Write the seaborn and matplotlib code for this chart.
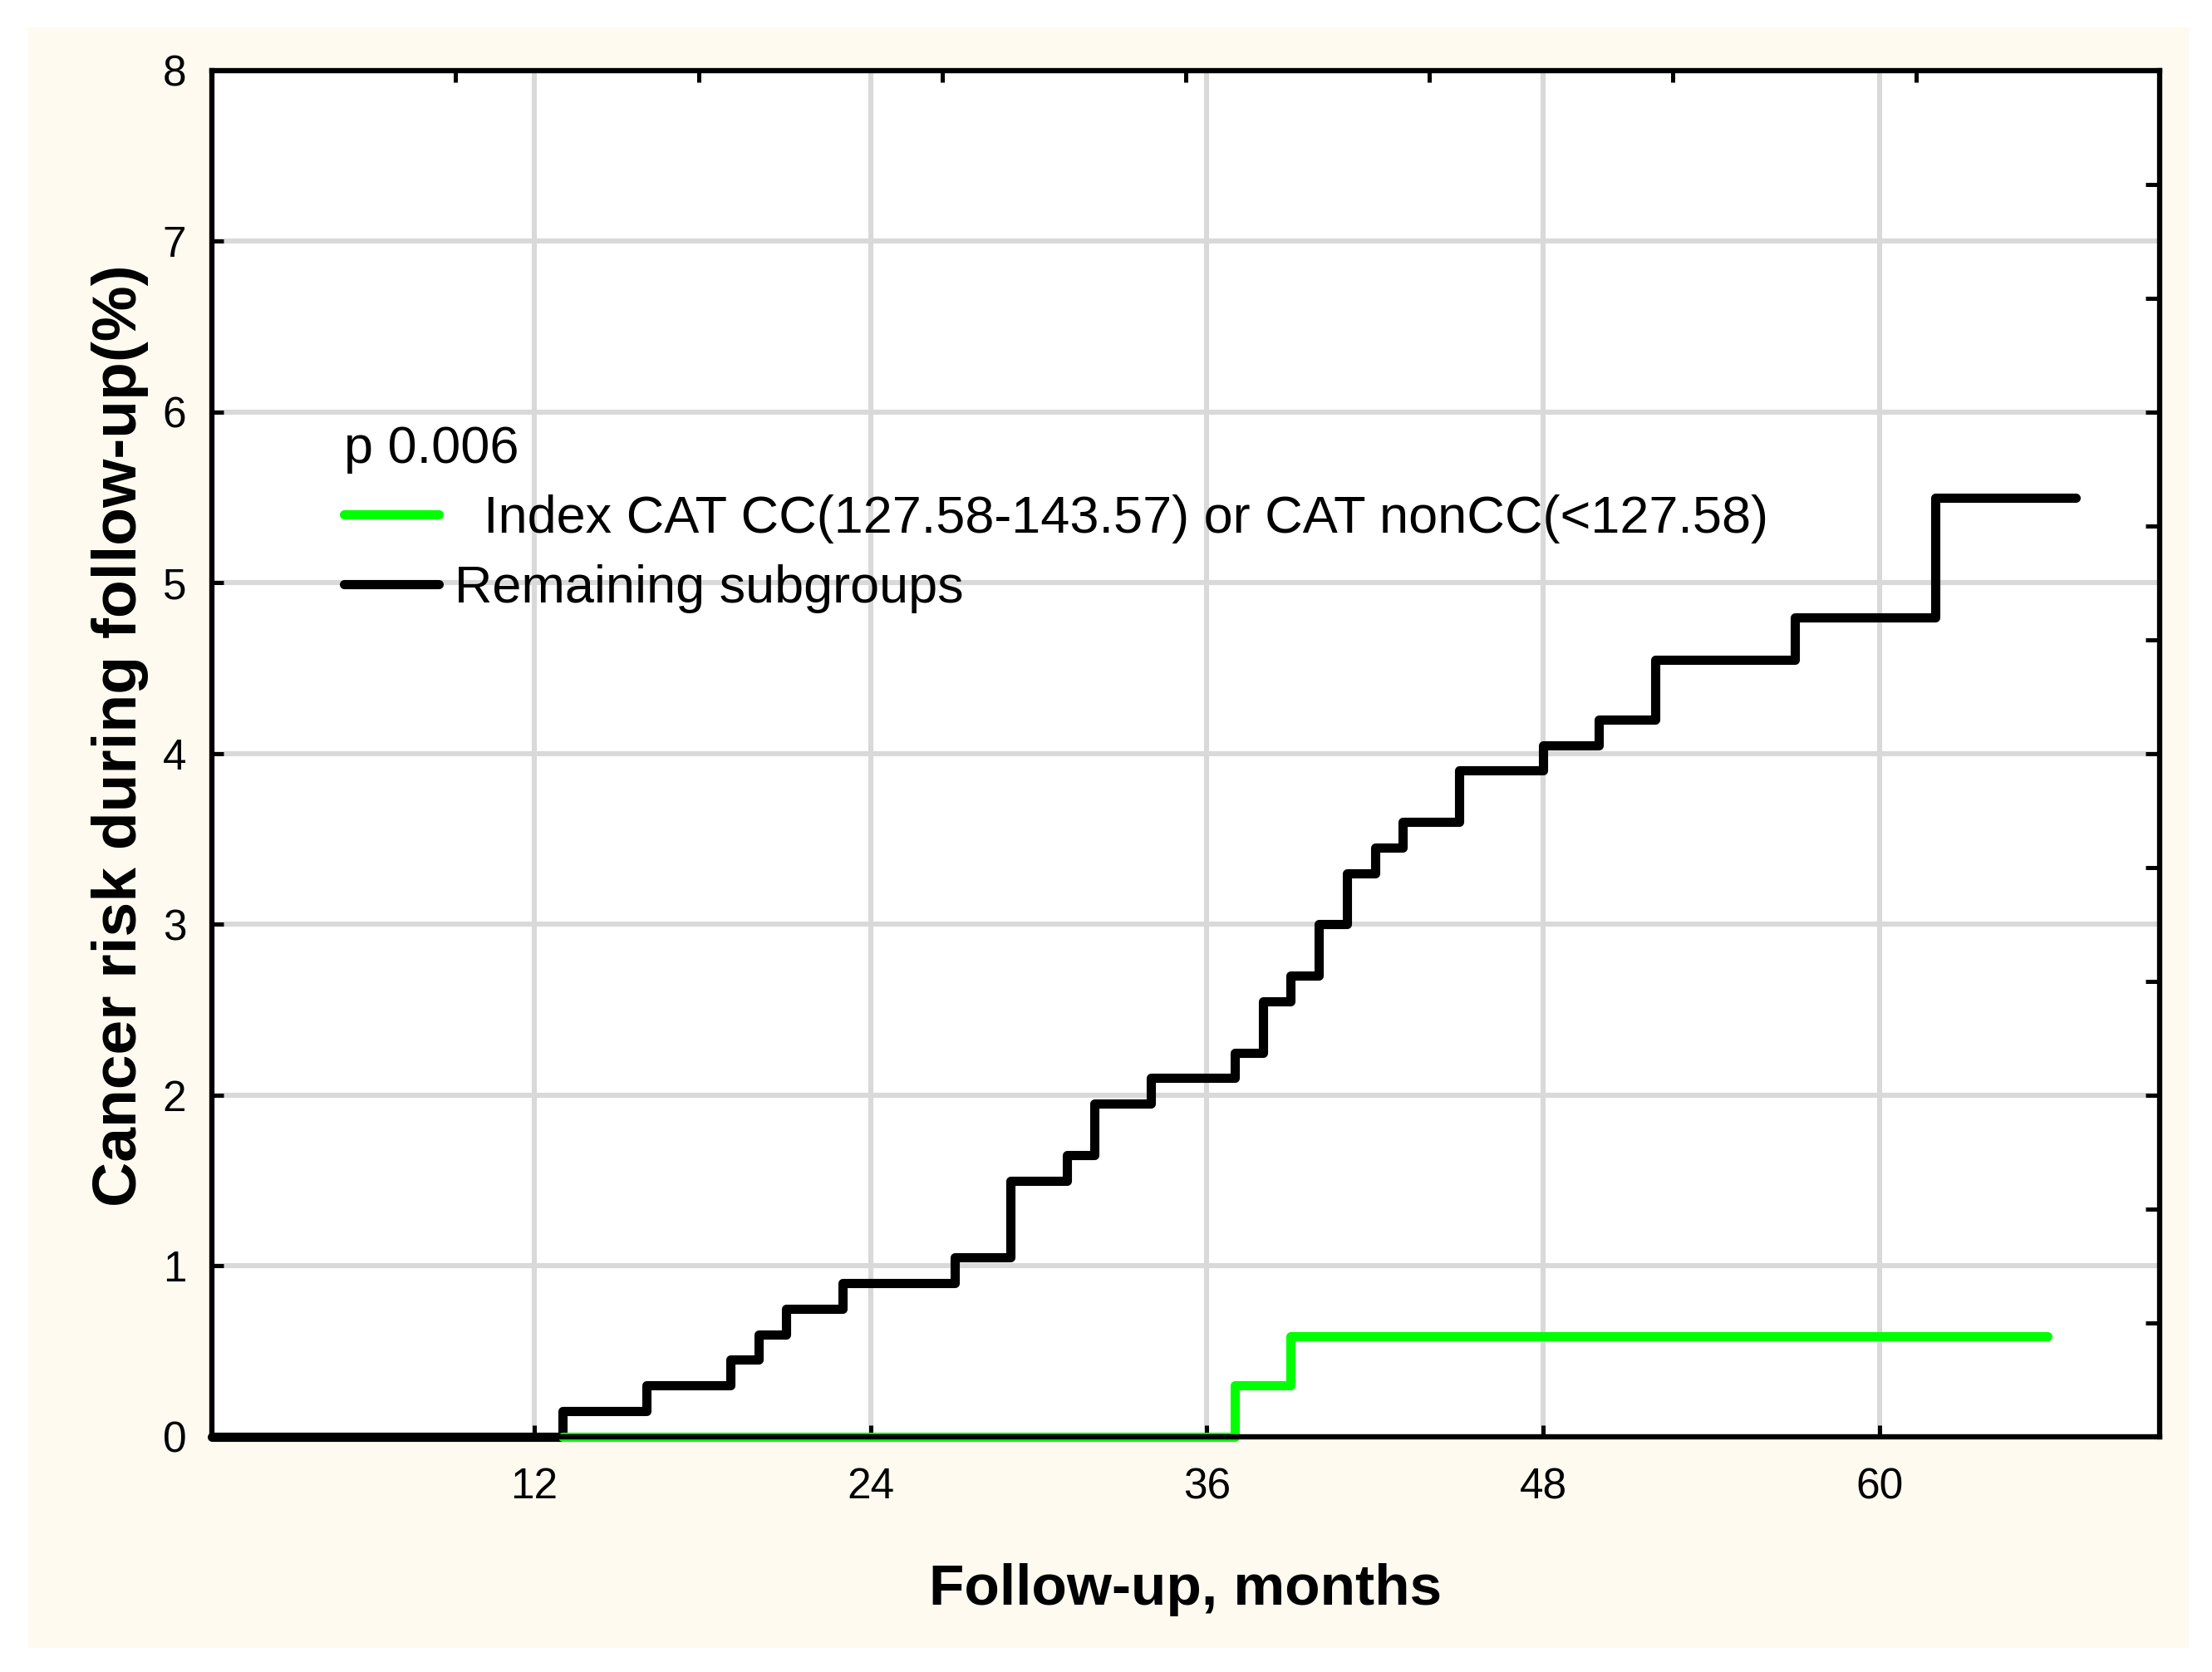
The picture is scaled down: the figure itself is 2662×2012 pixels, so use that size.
import pandas as pd
import numpy as np
from matplotlib import pyplot as plt
from matplotlib.patches import Rectangle
from matplotlib.lines import Line2D
import seaborn as sns

# step data (months, cumulative cancer risk %)
black_months = [0.5, 13, 16, 19, 20, 21, 23, 27, 29, 31, 32, 34, 37, 38, 39, 40, 41, 42, 43, 45, 48, 50, 52, 57, 62, 67]
black_risk = [0, 0.15, 0.3, 0.45, 0.6, 0.75, 0.9, 1.05, 1.5, 1.65, 1.95, 2.1, 2.25, 2.55, 2.7, 3.0, 3.3, 3.45, 3.6, 3.9, 4.05, 4.2, 4.55, 4.8, 5.5, 5.5]
green_months = [13, 37, 39, 66]
green_risk = [0, 0.3, 0.59, 0.59]

green_label = "  Index CAT CC(127.58-143.57) or CAT nonCC(<127.58)"
black_label = "Remaining subgroups"
p_label = "p 0.006"
x_ticks = [12, 24, 36, 48, 60]
y_ticks = [0, 1, 2, 3, 4, 5, 6, 7, 8]

df = pd.DataFrame({
    "month": black_months + green_months,
    "risk": black_risk + green_risk,
    "group": [black_label] * len(black_months) + [green_label] * len(green_months),
})

sns.set_style("white")
plt.rcParams['font.family'] = ['Liberation Sans', 'DejaVu Sans']
plt.rcParams.update({'text.color': 'black', 'axes.labelcolor': 'black',
                     'xtick.color': 'black', 'ytick.color': 'black'})

fig = plt.figure(figsize=(13.31, 10.06), dpi=200)
fig.patches.append(Rectangle((0.0124, 0.0144), 0.977, 0.9692, transform=fig.transFigure,
                             facecolor='#fefaf0', edgecolor='none', zorder=-1))
ax = fig.add_axes([0.0958, 0.1407, 0.8805, 0.8171])
ax.set_facecolor('white')

palette = {black_label: 'black', green_label: '#00ff00'}
sns.lineplot(data=df, x='month', y='risk', hue='group', palette=palette, estimator=None,
             drawstyle='steps-post', linewidth=4.0, legend=False, ax=ax, clip_on=False,
             solid_capstyle='round')

ax.set_xlim(0.5, 70)
ax.set_ylim(0, 8)
ax.set_xticks(x_ticks)
ax.set_yticks(y_ticks)
ax.grid(True, color='#d9d9d9', linewidth=2.2)
ax.set_axisbelow(True)
for s in ax.spines.values():
    s.set_linewidth(2.2)
    s.set_color('black')
ax.tick_params(axis='both', direction='in', length=5, width=1.8, color='black',
               labelcolor='black', labelsize=18.5)
ax.tick_params(axis='y', pad=11)
ax.tick_params(axis='x', pad=13)

ax.set_xlabel("Follow-up, months", fontsize=25, fontweight='bold', labelpad=24)
ax.set_ylabel("Cancer risk during follow-up(%)", fontsize=27, fontweight='bold', labelpad=6, y=0.513)

# secondary unlabelled ticks on top and right
ax_top = ax.twiny()
ax_top.set_xlim(0, 8)
ax_top.set_xticks(range(9))
ax_top.tick_params(axis='x', direction='in', length=5, width=1.8, labeltop=False, labelbottom=False)
ax_right = ax.twinx()
ax_right.set_ylim(0, 12)
ax_right.set_yticks(range(13))
ax_right.tick_params(axis='y', direction='in', length=6, width=1.8, labelright=False, labelleft=False)
for a in (ax_top, ax_right):
    a.grid(False)
    for s in a.spines.values():
        s.set_linewidth(2.2)
        s.set_color('black')

handles = [Line2D([], [], color='#00ff00', lw=4.0, solid_capstyle='round'),
           Line2D([], [], color='black', lw=4.0, solid_capstyle='round')]
leg = ax.legend(handles, [green_label, black_label], title=p_label, loc='upper left',
                bbox_to_anchor=(0.068, 0.741), frameon=False, fontsize=22.7, title_fontsize=22.7,
                handlelength=1.8, handletextpad=0.3, labelspacing=0.4, borderpad=0,
                borderaxespad=0, alignment='left')
leg.set_zorder(5)

fig.savefig("out.png", dpi=200)
